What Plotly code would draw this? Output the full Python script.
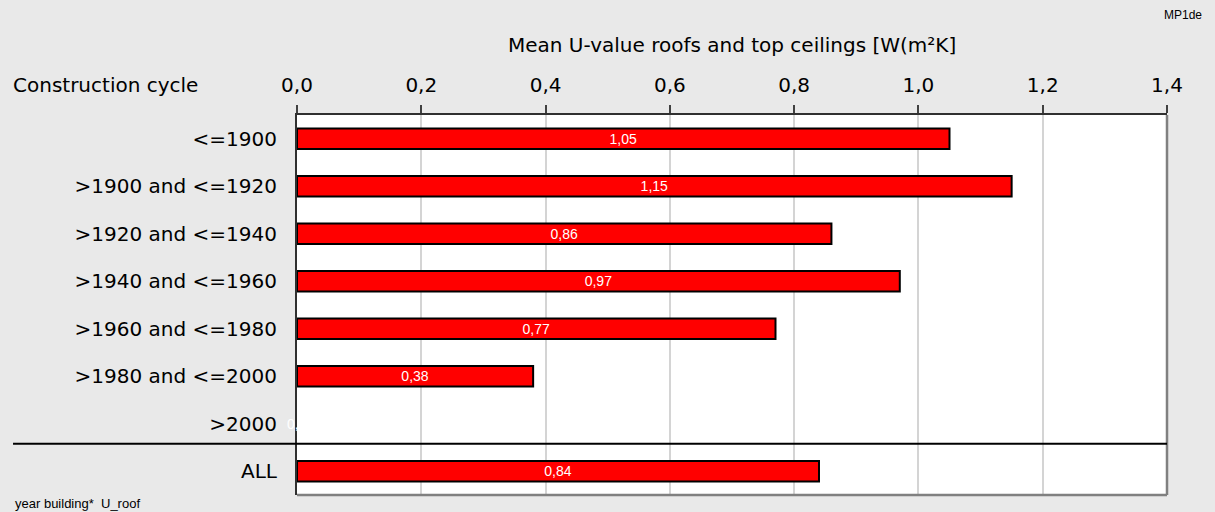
import plotly.graph_objects as go

categories = ["<=1900", ">1900 and <=1920", ">1920 and <=1940", ">1940 and <=1960",
              ">1960 and <=1980", ">1980 and <=2000", ">2000", "ALL"]
values = [1.05, 1.15, 0.86, 0.97, 0.77, 0.38, 0.0, 0.84]
x_ticks = [0.0, 0.2, 0.4, 0.6, 0.8, 1.0, 1.2, 1.4]

FONT = "DejaVu Sans"
LFONT = "Liberation Sans"
BG = "#E9E9E9"

pos = list(range(len(categories)))
labels = [f"{v:.2f}".replace(".", ",") for v in values]

fig = go.Figure()
fig.add_trace(go.Bar(
    y=pos, x=values, orientation="h", width=0.43,
    marker=dict(color="#FF0000",
                line=dict(color="black", width=[2 if v > 0 else 0 for v in values])),
    text=[l if v > 0 else "" for l, v in zip(labels, values)],
    textposition="inside", insidetextanchor="middle",
    textfont=dict(color="white", size=14, family=LFONT),
    constraintext="none", cliponaxis=False, showlegend=False,
))

# zero-value label
for i, v in enumerate(values):
    if v == 0:
        fig.add_annotation(x=0, y=i, xref="x", yref="y", text="0,0", showarrow=False,
                           font=dict(color="white", size=14, family=LFONT), xanchor="center")

fig.update_layout(
    width=1215, height=512,
    paper_bgcolor=BG, plot_bgcolor="white",
    margin=dict(l=297, r=48, t=115, b=17),
    separators=",.",
    font=dict(family=FONT, size=20, color="black"),
)
fig.update_xaxes(
    side="top", range=[0, 1.4], tickvals=x_ticks, tickformat=".1f",
    ticks="outside", ticklen=8, tickcolor="#404040", tickwidth=1.5,
    showgrid=True, gridcolor="#D4D4D4", gridwidth=1.5,
    showline=True, linecolor="#303030", linewidth=2, mirror=False,
    ticklabelstandoff=5,
    tickfont=dict(size=20, family=FONT), zeroline=False,
)
fig.update_yaxes(
    range=[7.5, -0.5], tickvals=pos, ticktext=categories,
    showgrid=False, zeroline=False, ticks="",
    showline=True, linecolor="#303030", linewidth=2,
    ticklabelstandoff=14,
    tickfont=dict(size=20, family=FONT),
)
# right and bottom border (gray)
fig.add_shape(type="line", xref="paper", yref="paper", x0=1, x1=1, y0=0, y1=1,
              line=dict(color="#808080", width=2.5))
fig.add_shape(type="line", xref="paper", yref="paper", x0=0, x1=1, y0=0, y1=0,
              line=dict(color="#808080", width=2.5))
# divider above ALL
fig.add_shape(type="line", xref="paper", yref="y", x0=-0.3264, x1=1.0, y0=6.42, y1=6.42,
              line=dict(color="black", width=2))

fig.add_annotation(text="Mean U-value roofs and top ceilings [W(m²K]", xref="paper", yref="paper",
                   x=0.5, y=1, yshift=70, showarrow=False, xanchor="center", yanchor="middle",
                   font=dict(size=20, family=FONT))
fig.add_annotation(text="Construction cycle", xref="paper", yref="paper",
                   x=-0.3287, y=1, yshift=30, showarrow=False, xanchor="left", yanchor="middle",
                   font=dict(size=20, family=FONT))
fig.add_annotation(text="MP1de", xref="paper", yref="paper",
                   x=1.043, y=1, yshift=100, showarrow=False, xanchor="right", yanchor="middle",
                   font=dict(size=12, family=LFONT))
fig.add_annotation(text="year building*  U_roof", xref="paper", yref="paper",
                   x=-0.3264, y=0, yshift=-8, showarrow=False, xanchor="left", yanchor="middle",
                   font=dict(size=13, family=LFONT))

fig.write_html("out.html", config={"displayModeBar": False},
               post_script="document.body.style.margin='0';document.body.style.background='%s';" % BG)
